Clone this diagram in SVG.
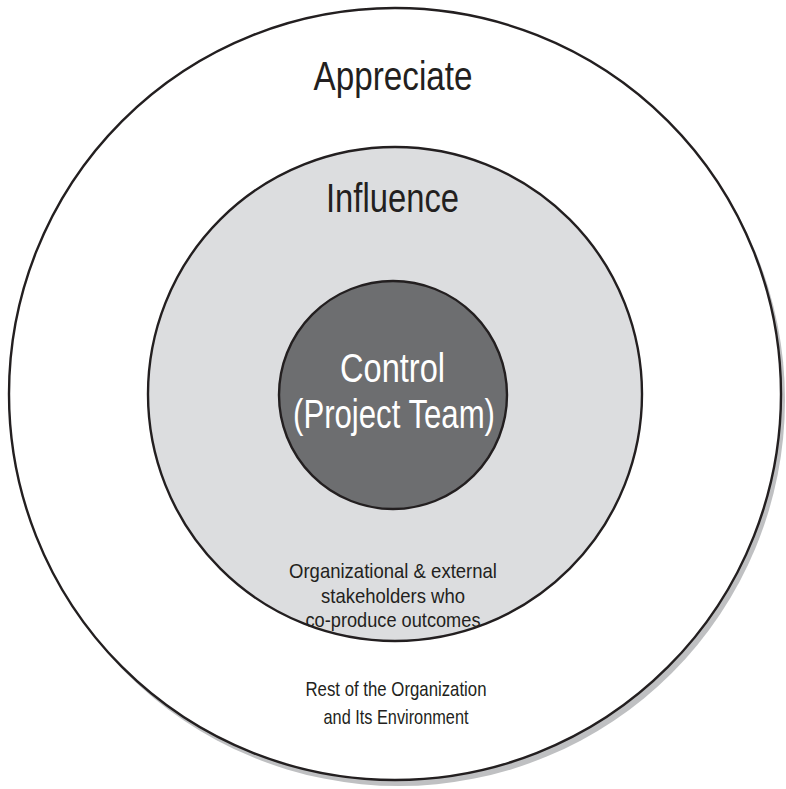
<svg xmlns="http://www.w3.org/2000/svg" width="786" height="789" viewBox="0 0 786 789">
<style>
.ring{stroke:#231f20;stroke-width:2.4}
.t{font-family:"Liberation Sans",Arial,sans-serif;text-anchor:middle;fill:#231f20}
.big{font-size:41px}
.small{font-size:21px}
.w{fill:#ffffff}
</style>
<rect width="786" height="789" fill="#ffffff"/>
<g id="appreciate">
<circle cx="399" cy="400" r="386" fill="#bfc0c2"/>
<circle cx="395" cy="394" r="386" fill="#ffffff" class="ring"/>
<text class="t big" x="393" y="90" textLength="159" lengthAdjust="spacingAndGlyphs">Appreciate</text>
<text class="t small" x="396" y="696" textLength="181" lengthAdjust="spacingAndGlyphs">Rest of the Organization</text>
<text class="t small" x="396" y="724" textLength="145" lengthAdjust="spacingAndGlyphs">and Its Environment</text>
</g>
<g id="influence">
<circle cx="395" cy="394" r="247" fill="#dcdddf" class="ring"/>
<text class="t big" x="392.5" y="212" textLength="133" lengthAdjust="spacingAndGlyphs">Influence</text>
<text class="t small" x="393" y="578" textLength="208" lengthAdjust="spacingAndGlyphs">Organizational &amp; external</text>
<text class="t small" x="393" y="603" textLength="144" lengthAdjust="spacingAndGlyphs">stakeholders who</text>
<text class="t small" x="393" y="627" textLength="175" lengthAdjust="spacingAndGlyphs">co-produce outcomes</text>
</g>
<g id="control">
<circle cx="393" cy="395" r="114" fill="#6d6e70" class="ring"/>
<text class="t big w" x="392.5" y="382" textLength="105" lengthAdjust="spacingAndGlyphs">Control</text>
<text class="t big w" x="394" y="428" textLength="202" lengthAdjust="spacingAndGlyphs">(Project Team)</text>
</g>
<g id="connectors"/>
</svg>
